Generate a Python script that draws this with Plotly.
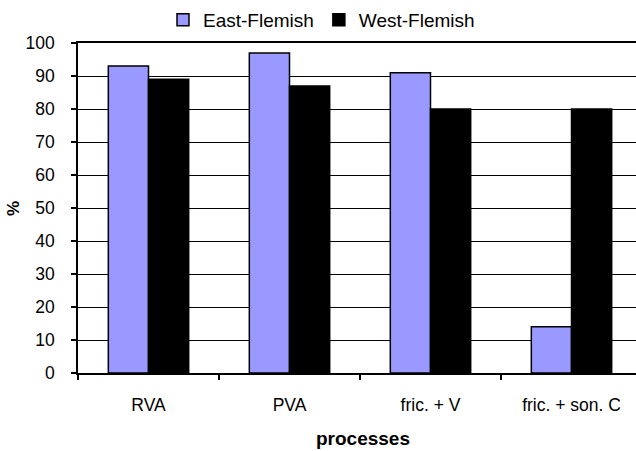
import plotly.graph_objects as go

# Share of tokens (%) per assimilation process, by dialect group
processes = ["RVA", "PVA", "fric. + V", "fric. + son. C"]
east_flemish = [93, 97, 91, 14]
west_flemish = [89, 87, 80, 80]
y_ticks = [0, 10, 20, 30, 40, 50, 60, 70, 80, 90, 100]

W, H = 636, 451
ML, MT, MB = 78, 43, 78
plot_w = W - ML
plot_h = H - MT - MB
cat_w = 141.0  # pixel width of one category slot
x_hi = -0.5 + plot_w / cat_w

font = "Liberation Sans, Arial, sans-serif"

fig = go.Figure()
fig.add_trace(go.Bar(
    x=processes, y=east_flemish, name="East-Flemish",
    marker=dict(color="#9999FF", line=dict(color="black", width=1.5)),
))
fig.add_trace(go.Bar(
    x=processes, y=west_flemish, name="West-Flemish",
    marker=dict(color="black", line=dict(color="black", width=1.5)),
))

fig.update_layout(
    width=W, height=H,
    margin=dict(l=ML, r=0, t=MT, b=MB, pad=0),
    paper_bgcolor="white", plot_bgcolor="white",
    barmode="group", bargap=0.43, bargroupgap=0,
    font=dict(family=font, size=17.5, color="black"),
    showlegend=True,
    legend=dict(
        orientation="h", x=(163 - ML) / plot_w, xanchor="left",
        y=1 + (MT - 1) / plot_h, yanchor="top",
        font=dict(size=19), itemwidth=30, tracegroupgap=0,
        bgcolor="rgba(0,0,0,0)", borderwidth=0,
    ),
    xaxis=dict(
        type="category", range=[-0.5, x_hi],
        showline=True, linecolor="black", linewidth=1.5, mirror=True,
        ticks="outside", tickson="boundaries", ticklen=5, tickcolor="black",
        tickwidth=1.5, showgrid=False, ticklabelstandoff=15,
        tickfont=dict(size=17.5),
    ),
    yaxis=dict(
        range=[0, 100], tickvals=y_ticks,
        showline=True, linecolor="black", linewidth=1.5,
        ticks="outside", ticklen=5, tickcolor="black", tickwidth=1.5,
        showgrid=True, gridcolor="black", gridwidth=1,
        ticklabelstandoff=13, tickfont=dict(size=17.5),
        zeroline=False,
    ),
    annotations=[
        dict(text="<b>processes</b>", xref="paper", yref="paper",
             x=(363 - ML) / plot_w, y=-(438 - (MT + plot_h)) / plot_h,
             xanchor="center", yanchor="middle", showarrow=False,
             font=dict(size=19)),
        dict(text="<b>%</b>", xref="paper", yref="paper",
             x=(13 - ML) / plot_w, y=(MT + plot_h - 209) / plot_h,
             textangle=-90, xanchor="center", yanchor="middle",
             showarrow=False, font=dict(size=17)),
    ],
)

fig.write_html("out.html")
